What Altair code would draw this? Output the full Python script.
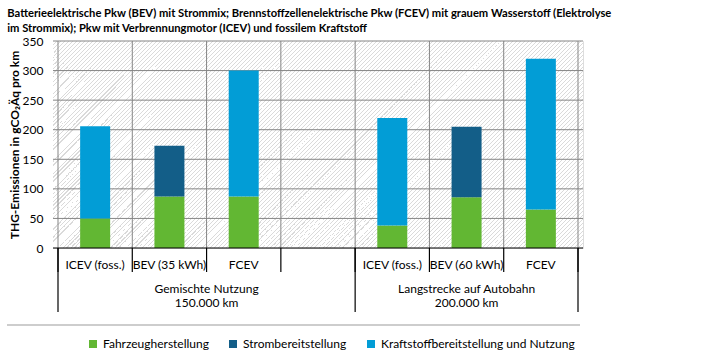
import altair as alt
import pandas as pd

# ---------------- data ----------------
slots = ["ICEV (foss.)", "BEV (35 kWh)", "FCEV", "", "ICEV (foss.)", "BEV (60 kWh)", "FCEV"]
fahrzeug = [50, 87, 87, 0, 38, 86, 65]
strom = [0, 86, 0, 0, 0, 119, 0]
kraftstoff = [156, 0, 213, 0, 182, 0, 255]

series = ["Fahrzeugherstellung", "Strombereitstellung", "Kraftstoffbereitstellung und Nutzung"]
colors = ["#62b733", "#135e88", "#029dd6"]

group_labels = ["Gemischte Nutzung", "Langstrecke auf Autobahn"]
group_km = ["150.000 km", "200.000 km"]
group_start = [0, 4]
group_end = [4, 7]

y_ticks = [0, 50, 100, 150, 200, 250, 300, 350]

title_lines = [
    "Batterieelektrische Pkw (BEV) mit Strommix; Brennstoffzellenelektrische Pkw (FCEV) mit grauem Wasserstoff (Elektrolyse",
    "im Strommix); Pkw mit Verbrennungmotor (ICEV) und fossilem Kraftstoff",
]
y_title = "THG-Emissionen in gCO\u2082\u00c4q pro km"

FONT = "Lato"
W, H = 530, 207

# ---------------- tables ----------------
rows = []
for i, s in enumerate(slots):
    for k, (name, vals) in enumerate(zip(series, [fahrzeug, strom, kraftstoff])):
        if vals[i] > 0:
            rows.append({"pos": i + 0.5, "slot": s, "serie": name, "order": k, "wert": vals[i]})
bars_df = pd.DataFrame(rows)

slot_df = pd.DataFrame({"pos": [i + 0.5 for i in range(len(slots))], "label": slots})
bound_df = pd.DataFrame({"b": list(range(len(slots) + 1))})
group_df = pd.DataFrame({
    "c": [(a + b) / 2 for a, b in zip(group_start, group_end)],
    "name": group_labels,
    "km": group_km,
})
group_bound_df = pd.DataFrame({"b": sorted(set(group_start + group_end))})
ytick_df = pd.DataFrame({"v": y_ticks})
one = pd.DataFrame({"a": [0]})

xscale = alt.Scale(domain=[0, len(slots)], nice=False, zero=False)
yscale = alt.Scale(domain=[0, 350], nice=False)

yaxis = alt.Axis(values=y_ticks, grid=False, ticks=False, domain=False,
                 labelFontSize=12, labelFont=FONT, labelColor="#000000",
                 labelPadding=10, labelOverlap=False, labelFlush=False,
                 title=y_title, titleFont=FONT,
                 titleFontSize=12, titleFontWeight="bold", titleColor="#000000",
                 titlePadding=1)

# hatch fill via a striped gradient (45 degree "/" lines)
period = 4.0 / (W + H)
stops = []
n = int(1 / period) + 1
for k in range(n):
    o = k * period
    if o > 1:
        break
    o1 = min(o + period * 0.25, 1)
    o2 = min(o + period, 1)
    stops += [
        alt.GradientStop(offset=o, color="#dadada"),
        alt.GradientStop(offset=o1, color="#dadada"),
        alt.GradientStop(offset=o1, color="#ffffff"),
        alt.GradientStop(offset=o2, color="#ffffff"),
    ]
s = (W + H) * W / (W * W + H * H)
hatch_grad = alt.Gradient(gradient="linear", stops=stops, x1=0, y1=0, x2=s, y2=s * H / W)

hatch = alt.Chart(one).mark_rect(fill=hatch_grad, strokeWidth=0).encode(
    x=alt.value(0), x2=alt.value(W), y=alt.value(0), y2=alt.value(H)
)

hgrid = alt.Chart(ytick_df).transform_filter("datum.v > 0").mark_rule(color="#858585", strokeWidth=1).encode(
    y=alt.Y("v:Q", scale=yscale, axis=yaxis),
    x=alt.value(0), x2=alt.value(W),
)

vgrid = alt.Chart(bound_df).mark_rule(color="#858585", strokeWidth=1).encode(
    x=alt.X("b:Q", scale=xscale, axis=None),
    y=alt.value(0), y2=alt.value(H),
)

bars = alt.Chart(bars_df).mark_bar(size=30).encode(
    x=alt.X("pos:Q", scale=xscale, axis=None),
    y=alt.Y("wert:Q", stack="zero", scale=yscale, axis=yaxis),
    color=alt.Color("serie:N", scale=alt.Scale(domain=series, range=colors),
                    legend=alt.Legend(orient="none", legendX=34, legendY=297,
                                      direction="horizontal", title=None,
                                      symbolType="square", symbolSize=64,
                                      symbolStrokeWidth=0, labelFont=FONT,
                                      labelFontSize=12, labelColor="#000000",
                                      columnPadding=18, labelOffset=4,
                                      labelLimit=400)),
    order=alt.Order("order:Q"),
)

baseline = alt.Chart(one).mark_rule(color="#000000", strokeWidth=1.2).encode(
    x=alt.value(0), x2=alt.value(W), y=alt.value(H)
)

seps = alt.Chart(bound_df).mark_rule(color="#000000", strokeWidth=1.2).encode(
    x=alt.X("b:Q", scale=xscale), y=alt.value(H), y2=alt.value(H + 24)
)
gseps = alt.Chart(group_bound_df).mark_rule(color="#000000", strokeWidth=1.2).encode(
    x=alt.X("b:Q", scale=xscale), y=alt.value(H), y2=alt.value(H + 64)
)

slot_text = alt.Chart(slot_df).mark_text(font=FONT, fontSize=12, baseline="middle", color="#000000").encode(
    x=alt.X("pos:Q", scale=xscale), y=alt.value(H + 17), text="label:N"
)
g1 = alt.Chart(group_df).mark_text(font=FONT, fontSize=12, baseline="middle", color="#000000").encode(
    x=alt.X("c:Q", scale=xscale), y=alt.value(H + 41), text="name:N"
)
g2 = alt.Chart(group_df).mark_text(font=FONT, fontSize=12, baseline="middle", color="#000000").encode(
    x=alt.X("c:Q", scale=xscale), y=alt.value(H + 55), text="km:N"
)

legend_line = alt.Chart(one).mark_rule(color="#bdbdbd", strokeWidth=1.5).encode(
    x=alt.value(-46), x2=alt.value(527), y=alt.value(284)
)

chart = alt.layer(
    hatch, hgrid, vgrid, bars, baseline, seps, gseps, slot_text, g1, g2, legend_line
).properties(
    width=W, height=H,
    title=alt.Title(text=title_lines, anchor="start", dx=1, dy=3, font=FONT, fontSize=11.2,
                    fontWeight="bold", color="#000000", lineHeight=14.5, offset=4),
    padding={"left": 53, "top": 41, "right": 124, "bottom": 106},
    autosize=alt.AutoSizeParams(type="none"),
).configure_view(stroke=None).configure(background="#ffffff")

chart.save("out.html", embed_options={"renderer": "svg", "actions": False})
